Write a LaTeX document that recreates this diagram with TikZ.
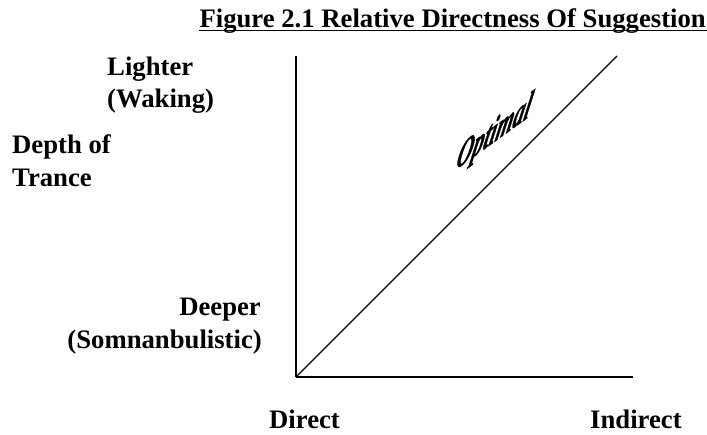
\documentclass[tikz,border=0pt]{standalone}
\usepackage{fontspec}
\setmainfont{Liberation Serif}
\newfontfamily\optfont{Liberation Serif}[BoldItalicFeatures={FakeBold=1.4}]
\begin{document}
\begin{tikzpicture}[x=1pt,y=-1pt,
  lbl/.style={inner sep=0pt,font=\fontsize{26.7}{32}\selectfont\bfseries},
  axis/.style={line width=1.4pt,black}]
\useasboundingbox (0,0) rectangle (707,434);
% title
\node[lbl,anchor=base east] (title) at (706,27) {Figure 2.1 Relative Directness Of Suggestion};
\draw[line width=1.6pt] ([yshift=-3.5pt]title.base west) -- ([yshift=-3.5pt,xshift=1pt]title.base east);
% axes
\coordinate (origin) at (296,377);
\coordinate (ytop) at (296,56);
\coordinate (xend) at (633,377);
\coordinate (dend) at (617,56);
\draw[axis] (origin) -- (ytop);
\draw[axis] (origin) -- (xend);
\draw[axis,line width=1.1pt] (origin) -- (dend);
% y labels
\node[lbl,anchor=base west] (lighter) at (107,75) {Lighter};
\node[lbl,anchor=base west] (waking) at (107,107) {(Waking)};
\node[lbl,anchor=base west] (depth) at (12,153) {Depth of};
\node[lbl,anchor=base west] (trance) at (12,186) {Trance};
\node[lbl,anchor=base east] (deeper) at (261,315) {Deeper};
\node[lbl,anchor=base east] (somn) at (262,348) {(Somnanbulistic)};
% x labels
\node[lbl,anchor=base west] (direct) at (269,428) {Direct};
\node[lbl,anchor=base west] (indirect) at (590,428) {Indirect};
% optimal
\node[inner sep=0pt,yslant=0.72,xslant=0.3,xscale=0.65,font=\fontsize{34}{38}\selectfont\optfont\bfseries\itshape] (optimal) at (494,134) {Optimal};
\end{tikzpicture}
\end{document}
